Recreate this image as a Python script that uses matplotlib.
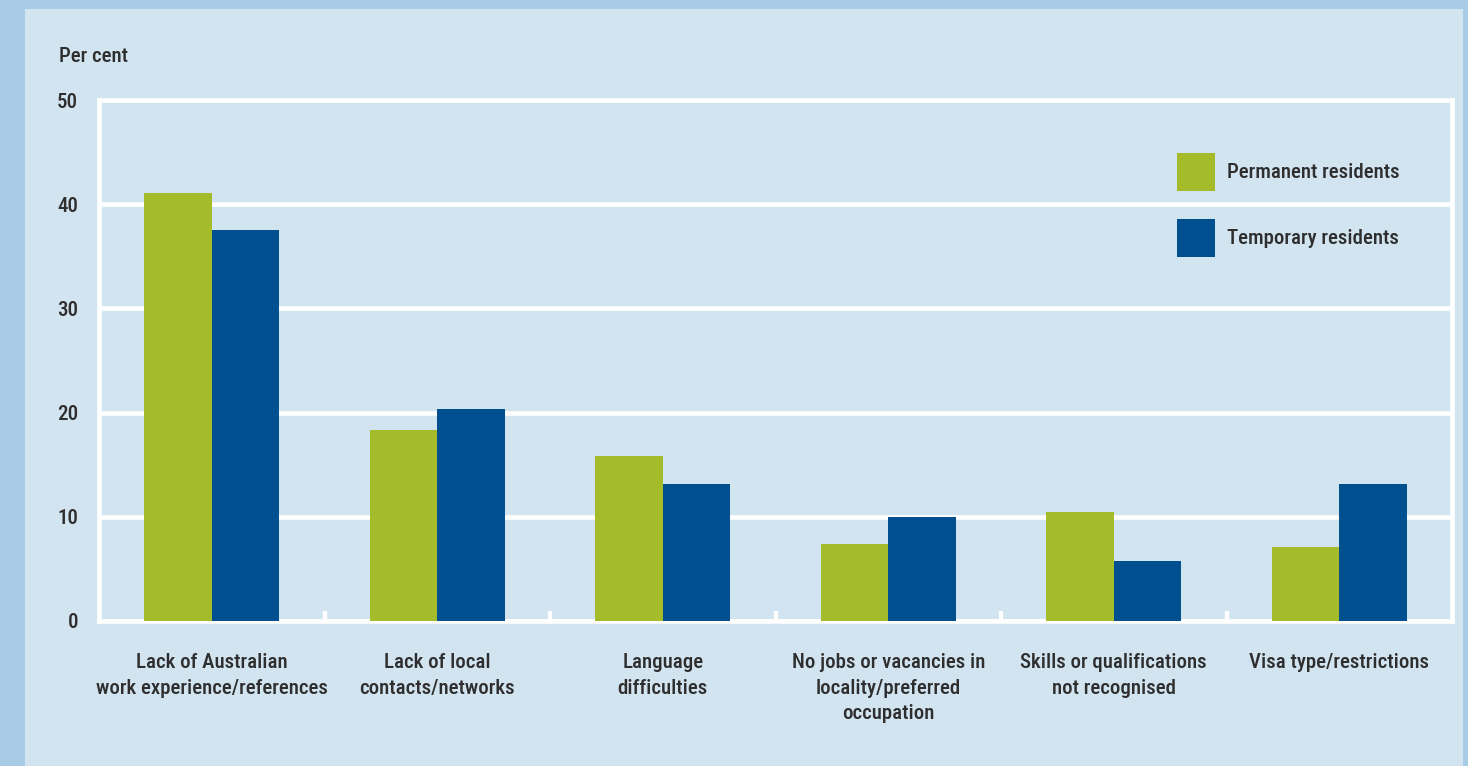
import matplotlib
matplotlib.use("Agg")
import matplotlib.pyplot as plt
from matplotlib.patches import Rectangle
import numpy as np

categories = [
    "Lack of Australian\nwork experience/references",
    "Lack of local\ncontacts/networks",
    "Language\ndifficulties",
    "No jobs or vacancies in\nlocality/preferred\noccupation",
    "Skills or qualifications\nnot recognised",
    "Visa type/restrictions",
]
permanent = [41.1, 18.3, 15.8, 7.4, 10.5, 7.1]
temporary = [37.5, 20.3, 13.1, 10.0, 5.8, 13.1]
series_names = ["Permanent residents", "Temporary residents"]
yticks = [0, 10, 20, 30, 40, 50]

GREEN = "#a4bb2a"
BLUE = "#004f8e"
OUTER = "#a8cce5"
INNER = "#d3e4f1"
TEXT = "#2e2e2e"
FS = 15

plt.rcParams['font.family'] = ['Roboto Condensed', 'IBM Plex Sans Condensed', 'Liberation Sans', 'DejaVu Sans']
plt.rcParams['font.weight'] = 500

fig = plt.figure(figsize=(14.68, 7.66), dpi=100, facecolor=OUTER)
fig.patches.append(Rectangle((25 / 1468, 0), (1463 - 25) / 1468, (766 - 9) / 766,
                             transform=fig.transFigure, facecolor=INNER,
                             edgecolor='none', zorder=-10))

ax = fig.add_axes([99 / 1468, (766 - 621) / 766, (1452 - 99) / 1468, (621 - 100) / 766])
ax.set_zorder(5)
ax.set_facecolor('none')

x = np.arange(len(categories))
w = 0.30
b1 = ax.bar(x - w / 2, permanent, width=w, color=GREEN, label=series_names[0], zorder=3)
b2 = ax.bar(x + w / 2, temporary, width=w, color=BLUE, label=series_names[1], zorder=3)

ax.set_xlim(-0.5, len(categories) - 0.5)
ax.set_ylim(0, 50)
ax.set_yticks(yticks)
ax.set_yticklabels([str(t) for t in yticks], fontsize=FS, color=TEXT)
ax.tick_params(axis='y', length=0, pad=15)

ax.set_xticks(x)
ax.set_xticklabels(categories, fontsize=FS, color=TEXT, linespacing=1.45, va='top')
ax.tick_params(axis='x', which='major', length=0, pad=23)
ax.set_xticks(np.arange(0.5, len(categories) - 0.5, 1.0), minor=True)
ax.tick_params(axis='x', which='minor', direction='in', length=7, width=3, color='white')

ax.set_axisbelow(True)
ax.grid(axis='y', color='white', linewidth=3.3, zorder=1)
for s in ax.spines.values():
    s.set_color('white')
    s.set_linewidth(3.3)

fig.text(59 / 1468, 1 - 56 / 766, "Per cent",
         fontsize=FS, color=TEXT, ha='left', va='center', zorder=6)

leg = ax.legend(handles=[b1, b2], loc='upper left',
                bbox_to_anchor=((1177 - 99) / 1353, (621 - 153) / 521),
                frameon=False, fontsize=FS, handlelength=38 * 0.72 / FS,
                handleheight=(38 * 0.72 / FS - 0.245) / 0.65,
                handletextpad=12 * 0.72 / FS, labelspacing=28 * 0.72 / FS,
                borderpad=0, borderaxespad=0)
for t in leg.get_texts():
    t.set_color(TEXT)

fig.savefig("out.png", dpi=100, facecolor=OUTER)
